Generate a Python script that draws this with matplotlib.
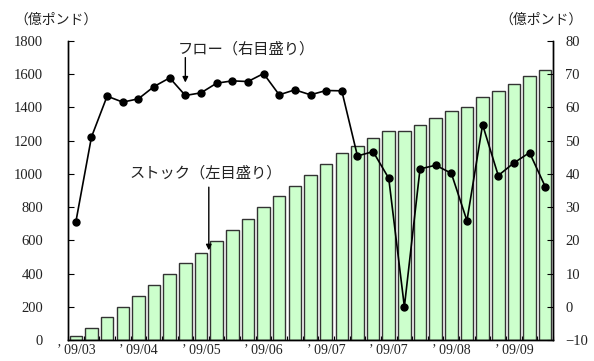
import matplotlib
matplotlib.use("Agg")
import matplotlib.pyplot as plt
import numpy as np

# Stock (left axis, 億ポンド) and flow (right axis, 億ポンド), weekly
stock = [24, 74, 139, 201, 263, 329, 398, 462, 526, 594, 661, 729, 799, 866, 930,
         992, 1058, 1125, 1169, 1215, 1257, 1257, 1295, 1339, 1378, 1404, 1460,
         1498, 1542, 1590, 1625]
flow = [25.5, 51.1, 63.4, 61.6, 62.6, 66.3, 68.9, 63.6, 64.4, 67.3, 68.0, 67.8,
        70.2, 63.8, 65.3, 63.8, 65.1, 65.0, 45.4, 46.7, 38.7, 0.0, 41.5, 42.6,
        40.2, 25.9, 54.8, 39.5, 43.3, 46.4, 36.2]
tick_labels = ["’ 09/03", "’ 09/04", "’ 09/05", "’ 09/06", "’ 09/07", "’ 09/07",
               "’ 09/08", "’ 09/09"]
tick_every = 4

num_font = ["Liberation Serif", "Noto Sans CJK JP"]
jp_font = ["Noto Sans CJK JP", "DejaVu Sans"]
plt.rcParams["font.family"] = num_font
plt.rcParams["font.size"] = 10
plt.rcParams["text.color"] = "#222222"
plt.rcParams["xtick.color"] = "black"
plt.rcParams["ytick.color"] = "black"
plt.rcParams["xtick.labelcolor"] = "#222222"
plt.rcParams["ytick.labelcolor"] = "#222222"

W, H = 594, 361
fig = plt.figure(figsize=(W / 100, H / 100), dpi=100)
ax = fig.add_axes([68 / W, 1 - 340 / H, (553 - 68) / W, (340 - 41) / H])
ax2 = ax.twinx()

x = np.arange(len(stock))
ax.bar(x, stock, width=0.8, color="#CCFFCC", edgecolor="#333333", linewidth=1.0,
       zorder=2)
ax2.plot(x, flow, color="black", linewidth=1.2, marker="o", markersize=5,
         markerfacecolor="black", markeredgecolor="black", zorder=3)

ax.set_xlim(-0.5, len(stock) - 0.5)
ax.set_ylim(0, 1800)
ax2.set_ylim(-10, 80)
ax.set_yticks(np.arange(0, 1801, 200))
ax2.set_yticks(np.arange(-10, 81, 10))

ax.set_xticks(x[::tick_every])
ax.set_xticklabels(tick_labels)
ax.set_xticks(np.arange(-0.5, len(stock), 1), minor=True)
ax.tick_params(axis="x", which="major", length=0, pad=3, labelsize=10)
ax.tick_params(axis="x", which="minor", direction="in", length=3, width=0.8)

ax.tick_params(axis="y", direction="in", length=4, width=0.8, pad=18,
               labelsize=10.5)
ax2.tick_params(axis="y", direction="in", length=4, width=0.8, pad=9,
                labelsize=10.5)

for a in (ax, ax2):
    a.spines["top"].set_visible(False)
    for s in ("left", "right", "bottom"):
        a.spines[s].set_linewidth(1.0)
        a.spines[s].set_color("black")
ax.patch.set_visible(False)
ax2.patch.set_visible(False)
ax.set_zorder(1)
ax2.set_zorder(2)

# Unit labels
fig.text(14 / W, 1 - 20 / H, "（億ポンド）", family=jp_font, fontsize=10,
         ha="left", va="center", color="#222222")
fig.text(583 / W, 1 - 20 / H, "（億ポンド）", family=jp_font, fontsize=10,
         ha="right", va="center", color="#222222")

# Series annotations with arrows
ax2.text(10.9, 77.6, "フロー（右目盛り）", family=jp_font, fontsize=11,
         ha="center", va="center", color="#222222")
ax2.annotate("", xy=(7.0, 67.5), xytext=(7.0, 75.0),
             arrowprops=dict(arrowstyle="-|>", color="black", lw=1.0,
                             mutation_scale=8, shrinkA=0, shrinkB=0))
ax.text(8.3, 1004, "ストック（左目盛り）", family=jp_font, fontsize=11,
        ha="center", va="center", color="#222222", zorder=5)
ax.annotate("", xy=(8.5, 540), xytext=(8.5, 920),
            arrowprops=dict(arrowstyle="-|>", color="black", lw=1.0,
                            mutation_scale=8, shrinkA=0, shrinkB=0), zorder=5)

fig.savefig("out.png", dpi=100)
